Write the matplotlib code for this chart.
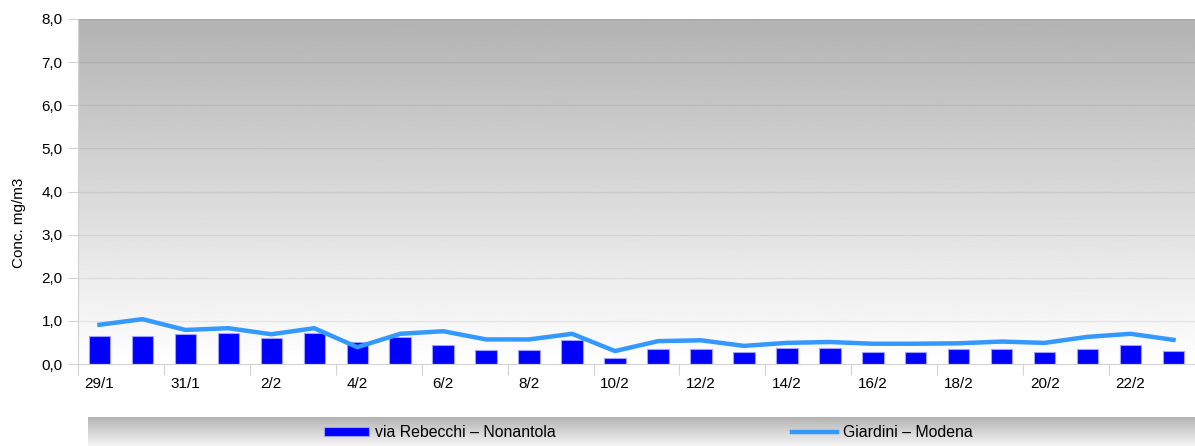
#!/usr/bin/env python3

import matplotlib
matplotlib.use("Agg")
import matplotlib.pyplot as plt
import numpy as np

plt.rcParams['font.family'] = ['Liberation Sans', 'DejaVu Sans']

days = ["29/1", "30/1", "31/1", "1/2", "2/2", "3/2", "4/2", "5/2", "6/2", "7/2",
        "8/2", "9/2", "10/2", "11/2", "12/2", "13/2", "14/2", "15/2", "16/2",
        "17/2", "18/2", "19/2", "20/2", "21/2", "22/2", "23/2"]
nonantola = [0.66, 0.64, 0.70, 0.72, 0.60, 0.72, 0.51, 0.63, 0.43, 0.32,
             0.33, 0.56, 0.15, 0.34, 0.34, 0.28, 0.36, 0.36, 0.28, 0.28,
             0.35, 0.34, 0.27, 0.34, 0.45, 0.31]
modena = [0.91, 1.04, 0.79, 0.83, 0.69, 0.83, 0.39, 0.70, 0.76, 0.57,
          0.57, 0.70, 0.30, 0.53, 0.55, 0.42, 0.49, 0.51, 0.47, 0.47,
          0.48, 0.52, 0.49, 0.63, 0.70, 0.56]
yticks = [0, 1, 2, 3, 4, 5, 6, 7, 8]


def main():
    W, H = 1195, 446
    fs = 11
    fig = plt.figure(figsize=(W / 100, H / 100), dpi=100)
    ax = fig.add_axes([78 / W, 1 - 364 / H, 1 - 78 / W, 345 / H])

    x = np.arange(len(days))
    n = len(days)

    # gradient background, dark at top
    grad = np.linspace(0.70, 1.0, 256).reshape(-1, 1)
    ax.imshow(grad, cmap="gray", vmin=0, vmax=1, aspect="auto",
              extent=(-0.5, n - 0.5, 0, 8), origin="upper", zorder=0)

    for v in yticks[1:]:
        ax.axhline(v, color="black", alpha=0.07, lw=0.9, zorder=1)

    bars = ax.bar(x, nonantola, width=0.5, color="#0000ff",
                  edgecolor="#a0a0ff", lw=0.8, zorder=2,
                  label="via Rebecchi \u2013 Nonantola")
    line, = ax.plot(x, modena, color="#3399ff", lw=3.2, zorder=3,
                    label="Giardini \u2013 Modena", solid_joinstyle="round")

    ax.set_xlim(-0.5, n - 0.5)
    ax.set_ylim(0, 8)
    ax.set_yticks(yticks)
    ax.set_yticklabels(["%d,0" % v for v in yticks], fontsize=fs)
    ax.tick_params(axis="y", length=7, color="#d2d2d2", pad=4)

    ax.set_xticks(np.arange(-0.5, n, 2))
    ax.set_xticklabels([])
    ax.set_xticks(x[::2], minor=True)
    ax.set_xticklabels(days[::2], minor=True, fontsize=fs)
    ax.tick_params(axis="x", which="major", length=8, color="#d2d2d2")
    ax.tick_params(axis="x", which="minor", length=0, pad=9)

    for s in ["top", "right"]:
        ax.spines[s].set_visible(False)
    for s in ["left", "bottom"]:
        ax.spines[s].set_color("#d2d2d2")

    ax.set_ylabel("Conc. mg/m3", fontsize=fs)
    ax.yaxis.set_label_coords(-0.047, 0.41)

    # legend box with gradient
    lax = fig.add_axes([88 / W, 0, 1 - 88 / W, 29 / H])
    lgrad = np.linspace(0.70, 0.96, 64).reshape(-1, 1)
    lax.imshow(lgrad, cmap="gray", vmin=0, vmax=1, aspect="auto",
               extent=(0, 1, 0, 1), origin="upper")
    lax.set_xlim(0, 1)
    lax.set_ylim(0, 1)
    lax.axis("off")
    lax.legend(handles=[bars, line], loc="center", ncol=2, frameon=False,
               fontsize=11.4, handlelength=2.85, handleheight=0.5,
               handletextpad=0.38, columnspacing=14.9,
               bbox_to_anchor=(0.506, 0.45))

    fig.savefig("out.png", dpi=100)


if __name__ == "__main__":
    main()
